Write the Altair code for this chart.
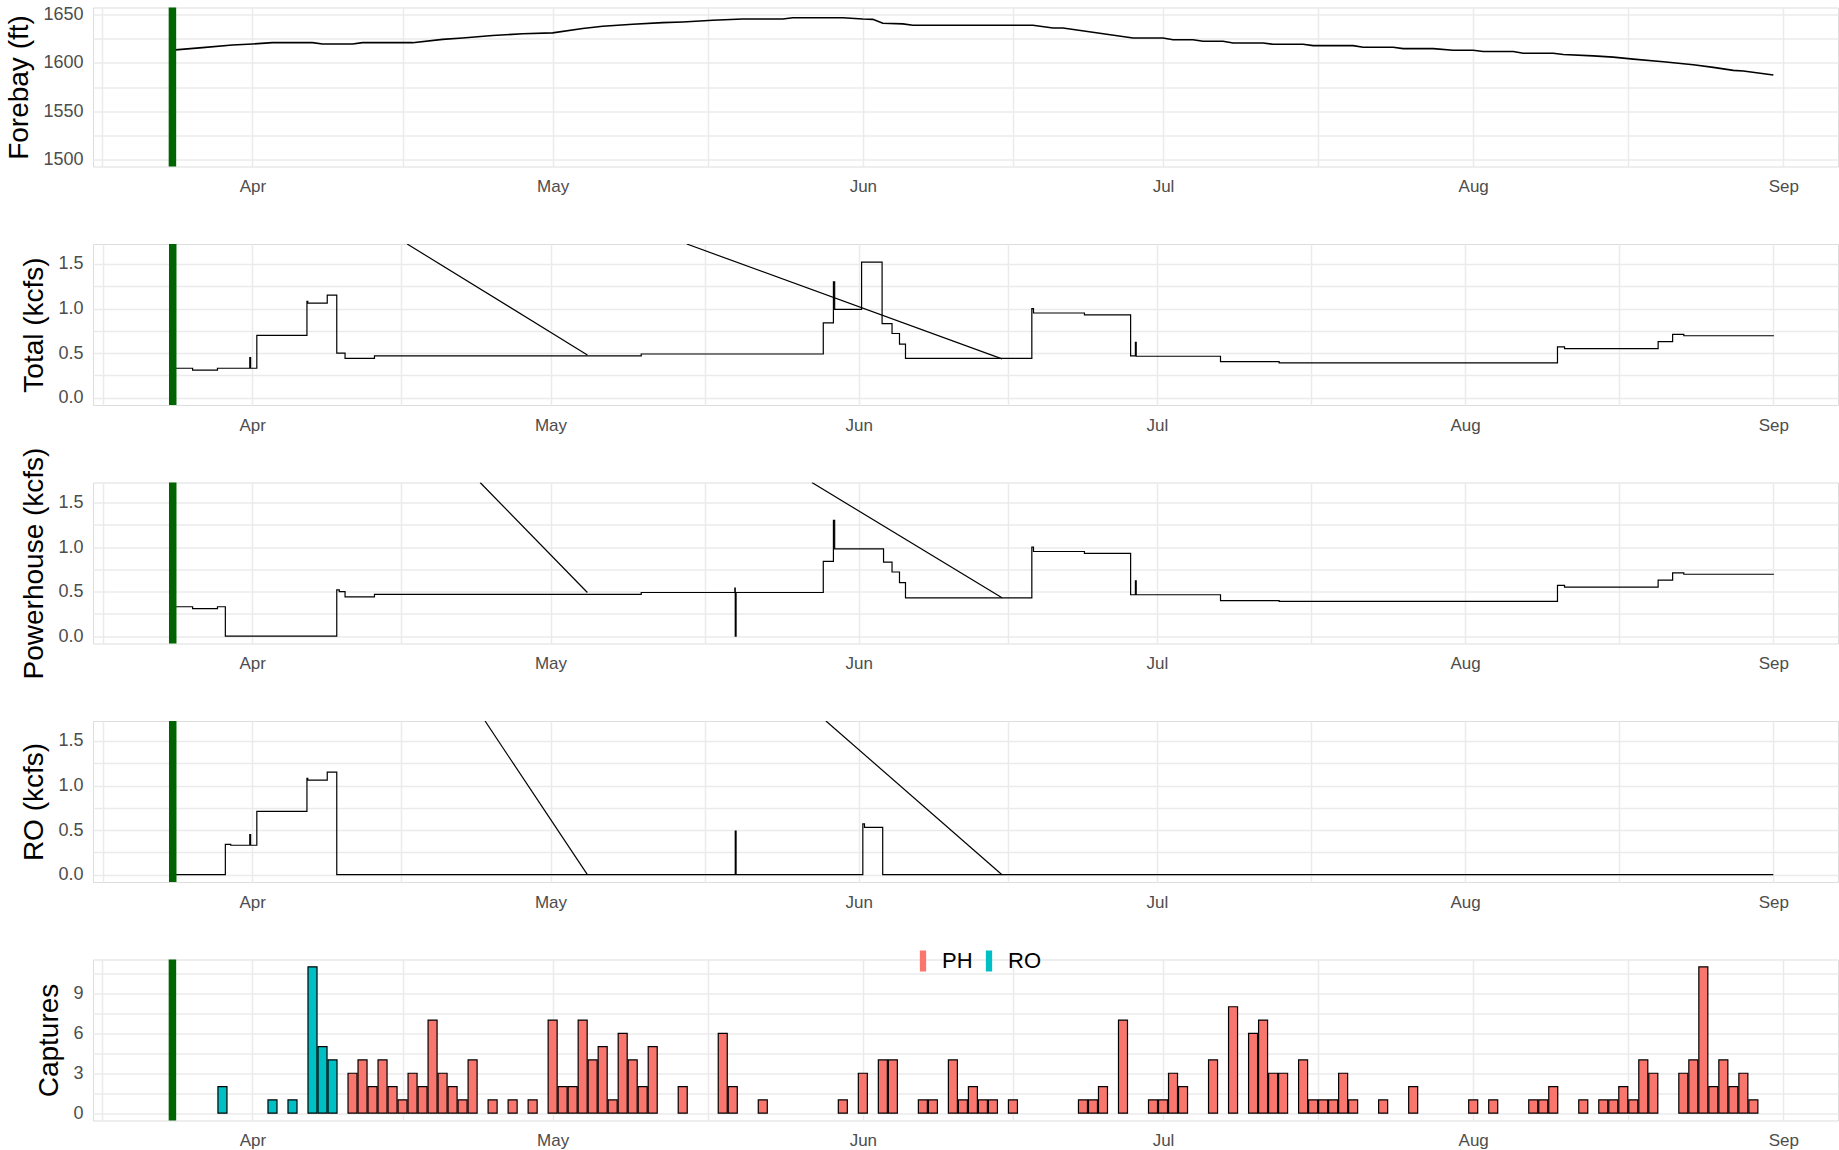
import altair as alt
import pandas as pd

YEAR = "2021"

# ---------------- data ----------------
# Forebay elevation (ft)
fb_time = ["03-24 07:00", "03-27 00:00", "03-30 00:00", "04-01 00:00", "04-03 00:00", "04-07 00:00",
           "04-08 00:00", "04-11 00:00", "04-12 00:00", "04-17 00:00", "04-20 00:00", "04-22 00:00",
           "04-25 00:00", "04-28 00:00", "05-01 00:00", "05-04 00:00", "05-06 00:00", "05-09 00:00",
           "05-12 00:00", "05-14 00:00", "05-17 00:00", "05-20 00:00", "05-24 00:00", "05-25 00:00",
           "05-30 00:00", "06-01 00:00", "06-02 00:00", "06-03 00:00", "06-05 00:00", "06-06 00:00",
           "06-18 00:00", "06-20 00:00", "06-21 00:00", "06-28 00:00", "07-01 00:00", "07-02 00:00",
           "07-04 00:00", "07-05 00:00", "07-07 00:00", "07-08 00:00", "07-11 00:00", "07-12 00:00",
           "07-15 00:00", "07-16 00:00", "07-20 00:00", "07-21 00:00", "07-24 00:00", "07-25 00:00",
           "07-28 00:00", "07-30 00:00", "08-01 00:00", "08-02 00:00", "08-05 00:00", "08-06 00:00",
           "08-09 00:00", "08-10 00:00", "08-13 00:00", "08-15 00:00", "08-17 00:00", "08-20 00:00",
           "08-23 00:00", "08-25 00:00", "08-27 00:00", "08-28 00:00", "08-31 00:00"]
fb_value = [1613.5, 1615.9, 1618.6, 1619.6, 1621.0, 1621.0,
            1619.6, 1619.6, 1621.0, 1621.0, 1624.4, 1625.8,
            1628.5, 1630.2, 1631.2, 1635.7, 1638.0, 1640.1,
            1641.8, 1642.5, 1644.2, 1645.6, 1645.6, 1646.9,
            1646.9, 1645.6, 1645.2, 1641.1, 1640.5, 1639.1,
            1639.1, 1636.3, 1636.3, 1625.8, 1625.8, 1624.0,
            1624.0, 1622.4, 1622.4, 1620.6, 1620.6, 1619.3,
            1619.3, 1617.9, 1617.9, 1616.2, 1616.2, 1614.8,
            1614.8, 1613.1, 1613.1, 1611.8, 1611.8, 1610.0,
            1610.0, 1608.7, 1607.3, 1606.0, 1603.9, 1601.2,
            1598.1, 1595.4, 1592.3, 1591.6, 1587.5]

# Total outflow (kcfs), value holds until next time
total_time = ["03-24 04:00", "03-26 00:00", "03-28 12:00", "03-31 18:00", "03-31 20:00", "04-01 11:00",
              "04-06 12:00", "04-06 14:00", "04-08 13:00", "04-09 12:00", "04-10 08:00", "04-13 07:00",
              "05-10 03:00", "05-28 10:30", "05-29 11:00", "05-29 14:00", "06-01 07:00", "06-03 08:30",
              "06-04 08:30", "06-05 02:30", "06-05 17:00", "06-18 10:00", "06-18 14:00", "06-23 17:00",
              "06-28 08:30", "06-28 20:00", "06-28 22:00", "07-07 09:30", "07-13 07:00", "08-10 07:00",
              "08-11 00:00", "08-20 10:00", "08-21 21:00", "08-23 00:00", "09-01 00:00"]
total_value = [0.33, 0.31, 0.33, 0.45, 0.33, 0.70,
               1.08, 1.06, 1.15, 0.50, 0.44, 0.47,
               0.49, 0.84, 1.30, 0.99, 1.52, 0.83,
               0.72, 0.60, 0.44, 1.00, 0.95, 0.93,
               0.47, 0.62, 0.465, 0.405, 0.39, 0.57,
               0.55, 0.63, 0.71, 0.695, 0.70]

# Powerhouse outflow (kcfs)
ph_time = ["03-24 04:00", "03-26 00:00", "03-28 12:00", "03-29 07:00", "04-09 12:00", "04-09 18:00",
           "04-10 08:00", "04-13 07:00", "05-10 03:00", "05-19 13:00", "05-19 14:00", "05-19 16:00",
           "05-28 10:30", "05-29 11:00", "05-29 14:00", "06-03 12:00", "06-04 08:30", "06-05 02:30",
           "06-05 17:00", "06-18 10:00", "06-18 14:00", "06-23 17:00", "06-28 08:30", "06-28 20:00",
           "06-28 22:00", "07-07 09:30", "07-13 07:00", "08-10 07:00", "08-11 00:00", "08-20 10:00",
           "08-21 21:00", "08-23 00:00", "09-01 00:00"]
ph_value = [0.33, 0.31, 0.33, 0.0, 0.52, 0.50,
            0.44, 0.47, 0.49, 0.54, 0.0, 0.49,
            0.84, 1.30, 0.98, 0.83, 0.72, 0.60,
            0.43, 1.00, 0.95, 0.93, 0.465, 0.62,
            0.465, 0.40, 0.39, 0.57, 0.55, 0.63,
            0.71, 0.695, 0.70]

# Regulating outlet outflow (kcfs)
ro_time = ["03-24 04:00", "03-29 07:00", "03-29 20:00", "03-31 18:00", "03-31 20:00", "04-01 11:00",
           "04-06 12:00", "04-06 14:00", "04-08 13:00", "04-09 12:00", "05-19 14:00", "05-19 16:00",
           "06-01 10:00", "06-01 14:00", "06-03 10:00", "09-01 00:00"]
ro_value = [0.0, 0.34, 0.33, 0.45, 0.33, 0.71,
            1.08, 1.06, 1.15, 0.0, 0.49, 0.0,
            0.57, 0.53, 0.0, 0.0]

# stray straight segments drawn in the flow panels (start -> end)
total_seg_time = ["04-16 14:00", "05-04 17:00", "05-14 17:00", "06-15 10:00"]
total_seg_value = [1.724, 0.48, 1.724, 0.435]
ph_seg_time = ["04-23 22:00", "05-04 17:00", "05-27 07:00", "06-15 10:00"]
ph_seg_value = [1.724, 0.49, 1.724, 0.43]
ro_seg_time = ["04-24 10:00", "05-04 17:00", "05-28 17:00", "06-15 10:00"]
ro_seg_value = [1.724, 0.0, 1.724, 0.0]
seg_id = ["a", "a", "b", "b"]

# daily captures
cap_date = ["03-29", "04-03", "04-05", "04-07", "04-08", "04-09",
            "04-11", "04-12", "04-13", "04-14", "04-15", "04-16", "04-17", "04-18", "04-19", "04-20",
            "04-21", "04-22", "04-23", "04-25", "04-27", "04-29",
            "05-01", "05-02", "05-03", "05-04", "05-05", "05-06", "05-07", "05-08", "05-09", "05-10",
            "05-11", "05-14", "05-18", "05-19", "05-22",
            "05-30", "06-01", "06-03", "06-04", "06-07", "06-08", "06-10", "06-11", "06-12", "06-13",
            "06-14", "06-16", "06-23", "06-24", "06-25", "06-27",
            "06-30", "07-01", "07-02", "07-03", "07-06", "07-08", "07-10", "07-11", "07-12", "07-13",
            "07-15", "07-16", "07-17", "07-18", "07-19", "07-20", "07-23", "07-26",
            "08-01", "08-03", "08-07", "08-08", "08-09", "08-12", "08-14", "08-15", "08-16", "08-17",
            "08-18", "08-19", "08-22", "08-23", "08-24", "08-25", "08-26", "08-27", "08-28", "08-29"]
cap_count = [2, 1, 1, 11, 5, 4,
             3, 4, 2, 4, 2, 1, 3, 2, 7, 3,
             2, 1, 4, 1, 1, 1,
             7, 2, 2, 7, 4, 5, 1, 6, 4, 2,
             5, 2, 6, 2, 1,
             1, 3, 4, 4, 1, 1, 4, 1, 2, 1,
             1, 1, 1, 1, 2, 7,
             1, 1, 3, 2, 4, 8, 6, 7, 3, 3,
             4, 1, 1, 1, 3, 1, 1, 2,
             1, 1, 1, 1, 2, 1, 1, 1, 2, 1,
             4, 3, 3, 4, 11, 2, 4, 2, 3, 1]
cap_route = ["RO"] * 6 + ["PH"] * (len(cap_date) - 6)

release_date = ["03-24 00:00"]

route_names = ["PH", "RO"]
route_colors = ["#F8766D", "#00BFC4"]

panel_titles = ["Forebay (ft)", "Total (kcfs)", "Powerhouse (kcfs)", "RO (kcfs)", "Captures"]

# ---------------- helpers ----------------
def T(s):
    return pd.Timestamp(f"{YEAR}-{s}")

def DT(m, d, h=0, mi=0):
    return alt.DateTime(year=int(YEAR), month=m, date=d, hours=h, minutes=mi)

W, H, H1 = 1745, 161, 159
FONT = "Liberation Sans"
LABEL_COLOR = "#4D4D4D"
GRID = "#EBEBEB"

dom_outer = [DT(3, 16, 1, 30), DT(9, 6, 11, 0)]
dom_inner = [DT(3, 15, 23, 30), DT(9, 7, 12, 14)]

x_grid_vals = [DT(3, 17), DT(4, 1), DT(4, 16), DT(5, 1), DT(5, 16, 12), DT(6, 1), DT(6, 16),
               DT(7, 1), DT(7, 16, 12), DT(8, 1), DT(8, 16, 12), DT(9, 1)]

x_axis = alt.Axis(values=x_grid_vals, title=None, grid=True, ticks=False, domain=False,
                  labelExpr="date(datum.value) == 1 && hours(datum.value) == 0 ? timeFormat(datum.value, '%b') : ''",
                  labelPadding=12, labelFontSize=17, labelColor=LABEL_COLOR, labelOverlap=False,
                  labelFlush=False, gridColor=GRID, gridWidth=1.5, labelFont=FONT)

def y_axis(title, vals, expr):
    return alt.Axis(values=vals, title=title, grid=True, ticks=False, domain=False,
                    labelExpr=expr, labelPadding=10, labelFontSize=18, labelColor=LABEL_COLOR,
                    labelFont=FONT, gridColor=GRID, gridWidth=1.5, titleFontSize=28,
                    titleColor="black", titleFontWeight="normal", titleFont=FONT, titlePadding=9,
                    labelOverlap=False)

def X(field, dom):
    return alt.X(f"{field}:T", scale=alt.Scale(domain=dom, nice=False), axis=x_axis)

def vline(dom):
    df = pd.DataFrame({"t": [T(s) for s in release_date]})
    return alt.Chart(df).mark_rule(color="#006400", strokeWidth=7.5).encode(x=X("t", dom))

# ---------------- panel 1: forebay ----------------
fb_df = pd.DataFrame({"t": [T(s) for s in fb_time], "v": fb_value})
fb_y = alt.Y("v:Q", scale=alt.Scale(domain=[1492.5, 1657.5], nice=False, zero=False),
             axis=y_axis(panel_titles[0], [1500, 1525, 1550, 1575, 1600, 1625, 1650],
                         "datum.value % 50 == 0 ? format(datum.value, 'd') : ''"))
p1 = alt.layer(
    alt.Chart(fb_df).mark_line(color="black", strokeWidth=1.6).encode(x=X("t", dom_outer), y=fb_y),
    vline(dom_outer),
).properties(width=W, height=H1)

# ---------------- flow panels ----------------
flow_vals = [0, 0.25, 0.5, 0.75, 1.0, 1.25, 1.5]
flow_expr = "datum.value % 0.5 == 0 ? format(datum.value, '.1f') : ''"

def flow_panel(title, times, values, seg_times, seg_values):
    df = pd.DataFrame({"t": [T(s) for s in times], "v": values})
    sdf = pd.DataFrame({"t": [T(s) for s in seg_times], "v": seg_values, "g": seg_id})
    y = alt.Y("v:Q", scale=alt.Scale(domain=[-0.082, 1.724], nice=False, zero=False),
              axis=y_axis(title, flow_vals, flow_expr))
    return alt.layer(
        alt.Chart(df).mark_line(color="black", strokeWidth=1.2, interpolate="step-after")
            .encode(x=X("t", dom_inner), y=y),
        alt.Chart(sdf).mark_line(color="black", strokeWidth=1.2, clip=True)
            .encode(x=X("t", dom_inner), y=y, detail="g:N"),
        vline(dom_inner),
    ).properties(width=W, height=H)

p2 = flow_panel(panel_titles[1], total_time, total_value, total_seg_time, total_seg_value)
p3 = flow_panel(panel_titles[2], ph_time, ph_value, ph_seg_time, ph_seg_value)
p4 = flow_panel(panel_titles[3], ro_time, ro_value, ro_seg_time, ro_seg_value)

# ---------------- panel 5: captures ----------------
cdf = pd.DataFrame({"d": [T(s + " 00:00") for s in cap_date], "n": cap_count, "route": cap_route})
cdf["x0"] = cdf["d"] - pd.Timedelta(hours=10.8)
cdf["x1"] = cdf["d"] + pd.Timedelta(hours=10.8)
cdf["zero"] = 0

cap_y = alt.Y("n:Q", scale=alt.Scale(domain=[-0.55, 11.55], nice=False, zero=False),
              axis=y_axis(panel_titles[4], [0, 1.5, 3, 4.5, 6, 7.5, 9, 10.5],
                          "datum.value % 3 == 0 ? format(datum.value, 'd') : ''"))
bars = alt.Chart(cdf).mark_bar(stroke="black", strokeWidth=1.2).encode(
    x=X("x0", dom_outer), x2="x1:T", y=cap_y, y2="zero:Q",
    color=alt.Color("route:N", scale=alt.Scale(domain=route_names, range=route_colors),
                    legend=alt.Legend(orient="none", legendX=819, legendY=942.5, direction="horizontal",
                                      title=None, symbolType="M-0.3,-1H0.3V1H-0.3Z", symbolSize=441,
                                      symbolStrokeWidth=0, symbolOpacity=1, labelFontSize=22,
                                      labelColor="black", labelFont=FONT, labelOffset=8,
                                      columnPadding=5, padding=0)),
)
p5 = alt.layer(bars, vline(dom_outer)).properties(width=W, height=H)

chart = alt.vconcat(p1, p2, p3, p4, p5, spacing=77.5, bounds="flush").properties(
    padding={"left": 5, "top": 2.5, "right": 0, "bottom": 0},
    background="white",
).configure_view(stroke=None).configure(font=FONT)

chart.save("out.html", embed_options={"renderer": "svg", "actions": False})
